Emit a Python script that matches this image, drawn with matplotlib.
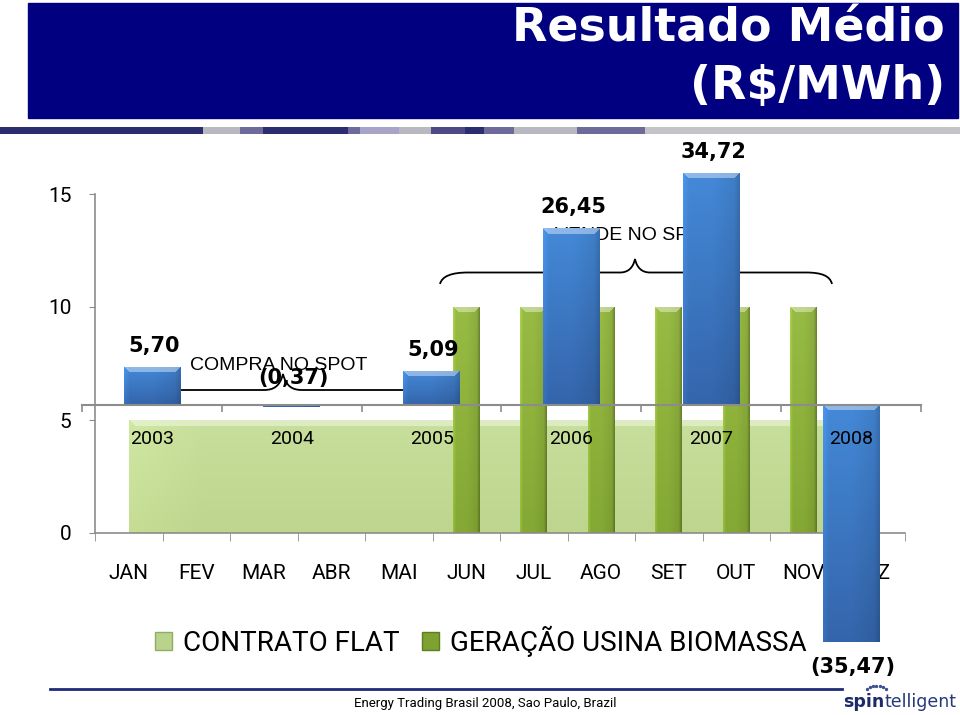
import matplotlib
matplotlib.use("Agg")
import matplotlib.pyplot as plt
import matplotlib.transforms as mtransforms
import numpy as np
from matplotlib.colors import to_rgb
from matplotlib.patches import Rectangle, Patch, PathPatch
from matplotlib.path import Path

# ---- dados ----
meses = ['JAN', 'FEV', 'MAR', 'ABR', 'MAI', 'JUN', 'JUL', 'AGO', 'SET', 'OUT', 'NOV', 'DEZ']
contrato_flat = [5, 5, 5, 5, 5, 5, 5, 5, 5, 5, 5, 5]
geracao_biomassa = [0, 0, 0, 0, 0, 10, 10, 10, 10, 10, 10, 0]
anos = ['2003', '2004', '2005', '2006', '2007', '2008']
resultado = [5.70, -0.37, 5.09, 26.45, 34.72, -35.47]

NARROW = ['Liberation Sans Narrow', 'Roboto', 'DejaVu Sans']
W, H = 960, 715


def rotulo(v):
    s = f"{abs(v):.2f}".replace('.', ',')
    return f"({s})" if v < 0 else s


def sombrear(ax, x0, x1, y0, y1, clip, topo, base, esq=1.0, dir=0.8, meio=0.93,
             chanfro=6, z=1):
    # gradiente "3D" tipo Excel, recortado pela forma
    ylo, yhi = min(y0, y1), max(y0, y1)
    (px0, py0), (px1, py1) = ax.transData.transform([(x0, ylo), (x1, yhi)])
    w = max(int(round(px1 - px0)), 2)
    h = max(int(round(py1 - py0)), 2)
    t = np.linspace(0, 1, h)[:, None]
    cor = (1 - t) * np.array(to_rgb(topo)) + t * np.array(to_rgb(base))
    img = np.repeat(cor[:, None, :], w, axis=1)
    u = np.linspace(0, 1, w)
    perfil = np.interp(u, [0, 0.1, 0.5, 0.9, 1], [esq, 1.0, 1.0, meio, dir])
    img = img * perfil[None, :, None]
    k = min(chanfro, h // 2)
    for i in range(k):
        img[i, i:w - i] = img[i, i:w - i] * 0.6 + 0.4
    img = np.clip(img, 0, 1)
    im = ax.imshow(img, extent=(x0, x1, ylo, yhi), origin='upper', aspect='auto',
                   interpolation='nearest', zorder=z)
    if isinstance(clip, tuple):
        im.set_clip_path(*clip)
    else:
        im.set_clip_path(clip)


fig = plt.figure(figsize=(9.6, 7.15), dpi=100)
pix = mtransforms.Affine2D().scale(1 / W, -1 / H).translate(0, 1) + fig.transFigure

# ---- cabeçalho ----
fig.add_artist(Rectangle((28, 3), 930, 115, transform=pix, color='#000080'))
fig.text(945 / W, 1 - 29 / H, 'Resultado Médio', color='white', fontsize=33,
         fontweight='bold', ha='right', va='center')
fig.text(945 / W, 1 - 86 / H, '(R$/MWh)', color='white', fontsize=33,
         fontweight='bold', ha='right', va='center')
faixa = [(0, 203, '#2b2d6e'), (203, 240, '#b8b8c0'), (240, 263, '#6e6a9a'),
         (263, 348, '#2b2d6e'), (348, 360, '#6e6a9a'), (360, 399, '#a8a4c8'),
         (399, 431, '#b8b8c0'), (431, 465, '#4e4a86'), (465, 484, '#2b2d6e'),
         (484, 514, '#6e6a9a'), (514, 577, '#b8b8c0'), (577, 645, '#6e6a9a'),
         (645, 960, '#c4c4c8')]
for a, b, c in faixa:
    fig.add_artist(Rectangle((a, 127), b - a, 7, transform=pix, color=c, lw=0))

# ---- gráfico de fundo (mensal) ----
ax_bg = fig.add_axes([95 / W, 1 - 533 / H, 810 / W, 339 / H])
ax_bg.set_zorder(0)
ax_bg.set_xlim(-0.5, 11.5)
ax_bg.set_ylim(0, 15)
xm = np.arange(len(meses))

area = ax_bg.fill_between(xm, 0, contrato_flat, color='#c4dc98', lw=0, zorder=1)
sombrear(ax_bg, xm[0], xm[-1], 0, max(contrato_flat),
         (area.get_paths()[0], ax_bg.transData),
         '#c8df9d', '#bdd58d', esq=1.04, dir=1.0, meio=1.0, chanfro=7, z=1.01)

barras_g = ax_bg.bar(xm, geracao_biomassa, width=0.4, color='#8db03a', zorder=2)
for b, v in zip(barras_g, geracao_biomassa):
    if v > 0:
        sombrear(ax_bg, b.get_x(), b.get_x() + b.get_width(), 0, v, b,
                 '#98bb44', '#84a834', esq=1.12, dir=0.72, chanfro=6, z=2.01)

for s in ['top', 'right']:
    ax_bg.spines[s].set_visible(False)
for s in ['left', 'bottom']:
    ax_bg.spines[s].set_color('#8c8c8c')
    ax_bg.spines[s].set_linewidth(1.2)
ax_bg.set_yticks([0, 5, 10, 15])
ax_bg.tick_params(axis='y', length=4, color='#8c8c8c', pad=13, labelsize=15)
ax_bg.set_xticks(xm)
ax_bg.set_xticklabels(meses)
ax_bg.set_xticks(np.arange(-0.5, 12, 1), minor=True)
ax_bg.tick_params(axis='x', which='major', length=0, pad=22, labelsize=15)
ax_bg.tick_params(axis='x', which='minor', length=6, color='#8c8c8c')
for lbl in ax_bg.get_xticklabels() + ax_bg.get_yticklabels():
    lbl.set_family(NARROW)

leg = fig.legend(handles=[Patch(facecolor='#b9d38c', edgecolor='#8fae62'),
                          Patch(facecolor='#7ea232', edgecolor='#5e7d1e')],
                 labels=['CONTRATO FLAT', 'GERAÇÃO USINA BIOMASSA'],
                 loc='center', bbox_to_anchor=(481 / W, 1 - 641 / H), ncol=2,
                 frameon=False, handlelength=0.6, handleheight=0.6,
                 handletextpad=0.4, columnspacing=0.8, prop={'family': NARROW, 'size': 20})

# ---- gráfico da frente (anual) ----
ax_fg = fig.add_axes([82 / W, 1 - 680 / H, 839 / W, 540 / H])
ax_fg.set_zorder(1)
ax_fg.patch.set_visible(False)
ax_fg.set_xlim(-0.5, 5.5)
ax_fg.set_ylim(-41.15, 39.66)
xa = np.arange(len(anos))

barras = ax_fg.bar(xa, resultado, width=0.405, color='#3d7cc9', zorder=1)
for b, v in zip(barras, resultado):
    sombrear(ax_fg, b.get_x(), b.get_x() + b.get_width(), 0, v, b,
             '#4489d8', '#3465ab', esq=1.1, dir=0.82, chanfro=6, z=1.01)

desloc = [15, 21, 15, 15, 15, -18]
for x, v, d in zip(xa, resultado, desloc):
    ax_fg.annotate(rotulo(v), (x, v), xytext=(1.5, d), textcoords='offset points',
                   ha='center', va='center', fontsize=15, fontweight='bold', zorder=3)

for s in ['top', 'right', 'left']:
    ax_fg.spines[s].set_visible(False)
ax_fg.spines['bottom'].set_position(('data', 0))
ax_fg.spines['bottom'].set_color('#8c8c8c')
ax_fg.spines['bottom'].set_linewidth(1.5)
ax_fg.set_yticks([])
ax_fg.set_xticks(xa)
ax_fg.set_xticklabels(anos)
ax_fg.set_xticks(np.arange(-0.5, 6, 1), minor=True)
ax_fg.tick_params(axis='x', which='major', length=0, pad=18, labelsize=14)
ax_fg.tick_params(axis='x', which='minor', length=5, color='#8c8c8c', width=1.2)
ax_fg.set_axisbelow(False)
for lbl in ax_fg.get_xticklabels():
    lbl.set_family(NARROW)

# chaves e textos
chave_compra = Path([(179, 390), (264, 390), (274, 390), (280, 386), (283, 374),
                     (286, 386), (292, 390), (302, 390), (404, 390)],
                    [Path.MOVETO, Path.LINETO, Path.CURVE4, Path.CURVE4, Path.CURVE4,
                     Path.CURVE4, Path.CURVE4, Path.CURVE4, Path.LINETO])
chave_vende = Path([(440, 284), (442, 276), (452, 272.5), (468, 272.5), (620, 272.5),
                    (628, 272.5), (633, 268), (635, 259), (637, 268), (642, 272.5),
                    (650, 272.5), (806, 272.5), (822, 272.5), (830, 276), (832, 284)],
                   [Path.MOVETO, Path.CURVE4, Path.CURVE4, Path.CURVE4, Path.LINETO,
                    Path.CURVE4, Path.CURVE4, Path.CURVE4, Path.CURVE4, Path.CURVE4,
                    Path.CURVE4, Path.LINETO, Path.CURVE4, Path.CURVE4, Path.CURVE4])
for p in [chave_compra, chave_vende]:
    ax_fg.add_patch(PathPatch(p, transform=pix, fill=False, lw=1.3, color='black',
                              zorder=0.5, clip_on=False))
ax_fg.text(279, 366, 'COMPRA NO SPOT', transform=pix, ha='center', va='center',
           fontsize=14, family='Liberation Sans', zorder=0.6)
ax_fg.text(635, 235, 'VENDE NO SPOT', transform=pix, ha='center', va='center',
           fontsize=14, family='Liberation Sans', zorder=0.6)

# ---- rodapé ----
fig.add_artist(plt.Line2D([50, 842], [689, 689], transform=pix, color='#1f2a78', lw=2))
fig.text(485 / W, 1 - 703 / H, 'Energy Trading Brasil 2008, Sao Paulo, Brazil',
         ha='center', va='center', fontsize=9.5, family=NARROW)
t1 = fig.text(843 / W, 1 - 702 / H, 'spin', ha='left', va='center', fontsize=12.5,
              fontweight='bold', color='#1c2a6a')
ax_fg.annotate('telligent', xy=(1, 0), xycoords=t1, ha='left', va='bottom',
               fontsize=12.5, color='#243a7a', annotation_clip=False)
ang = np.linspace(2.2, 0.9, 7)
fig.add_artist(plt.Line2D(876 + 16 * np.cos(ang), 700 - 14 * np.sin(ang), transform=pix,
                          ls='none', marker='o', ms=1.4, color='#3a4f8f'))

fig.savefig('out.png', dpi=100)
